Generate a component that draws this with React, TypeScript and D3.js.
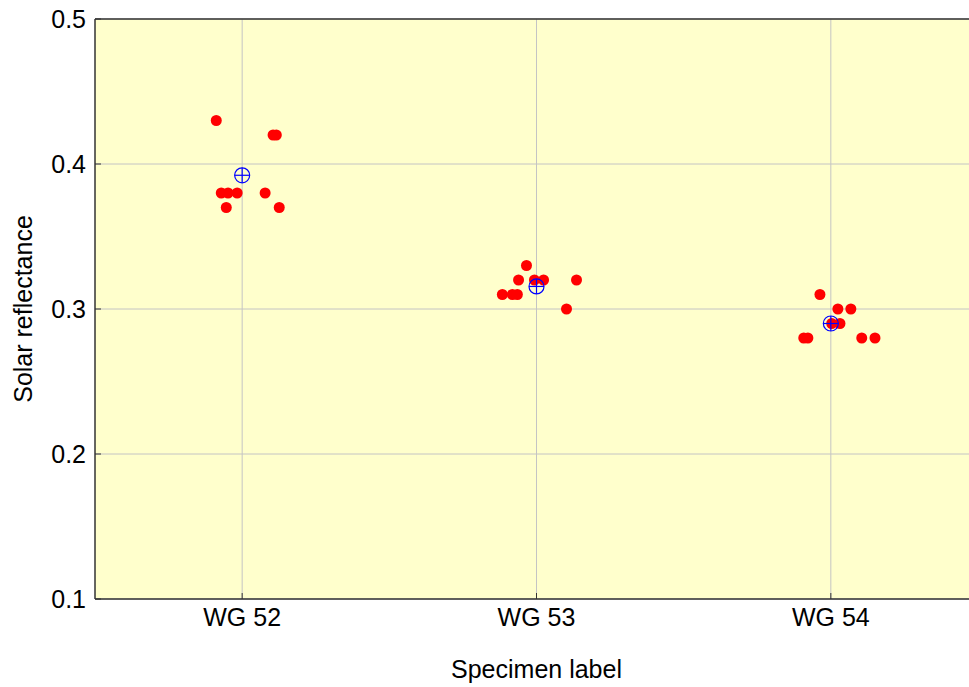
import { useRef, useEffect } from "react";
import * as d3 from "d3";

// specimen categories and measured reflectances (jittered horizontally like the original)
const specimens = ["WG 52", "WG 53", "WG 54"];
const wg52 = [0.43, 0.42, 0.42, 0.38, 0.38, 0.38, 0.38, 0.37, 0.37];
const wg52Jitter = [-0.088, 0.105, 0.116, -0.071, -0.048, -0.017, 0.078, -0.054, 0.126];
const wg53 = [0.33, 0.32, 0.32, 0.32, 0.32, 0.31, 0.31, 0.31, 0.3];
const wg53Jitter = [-0.034, -0.061, -0.007, 0.024, 0.136, -0.116, -0.082, -0.065, 0.102];
const wg54 = [0.31, 0.3, 0.3, 0.29, 0.29, 0.28, 0.28, 0.28, 0.28];
const wg54Jitter = [-0.037, 0.024, 0.068, 0.031, 0.003, -0.092, -0.078, 0.105, 0.15];
const yTicks = [0.1, 0.2, 0.3, 0.4, 0.5];

const groups = [
  { values: wg52, jitter: wg52Jitter },
  { values: wg53, jitter: wg53Jitter },
  { values: wg54, jitter: wg54Jitter },
];

export default function App() {
  const svgRef = useRef<SVGSVGElement>(null);

  useEffect(() => {
    if (!svgRef.current) return;
    const width = 969;
    const height = 687;
    const margin = { top: 19, right: -9, bottom: 88, left: 95 };
    const font = "'Liberation Sans', Arial, sans-serif";
    const fontSize = "25px";

    const svg = d3.select(svgRef.current);
    svg.selectAll("*").remove();
    svg.attr("width", width).attr("height", height);

    const innerWidth = width - margin.left - margin.right;
    const innerHeight = height - margin.top - margin.bottom;

    const x = d3.scaleLinear().domain([0.5, 3.5]).range([0, innerWidth]);
    const y = d3.scaleLinear().domain([0.1, 0.5]).range([innerHeight, 0]);

    const g = svg.append("g").attr("transform", `translate(${margin.left},${margin.top})`);

    // background
    g.append("rect")
      .attr("width", innerWidth)
      .attr("height", innerHeight)
      .attr("fill", "#ffffcc");

    // grid
    g.selectAll(".hgrid")
      .data(yTicks)
      .join("line")
      .attr("x1", 0)
      .attr("x2", innerWidth)
      .attr("y1", (d) => y(d))
      .attr("y2", (d) => y(d))
      .attr("stroke", "#c4c4c4")
      .attr("stroke-width", 1);
    g.selectAll(".vgrid")
      .data(specimens)
      .join("line")
      .attr("x1", (_, i) => x(i + 1))
      .attr("x2", (_, i) => x(i + 1))
      .attr("y1", 0)
      .attr("y2", innerHeight)
      .attr("stroke", "#c4c4c4")
      .attr("stroke-width", 1);

    // axes frame
    g.append("line").attr("x1", 0).attr("x2", innerWidth).attr("y1", 0).attr("y2", 0).attr("stroke", "#333").attr("stroke-width", 1.5);
    g.append("line").attr("x1", 0).attr("x2", innerWidth).attr("y1", innerHeight).attr("y2", innerHeight).attr("stroke", "#333").attr("stroke-width", 1.5);
    g.append("line").attr("x1", 0).attr("x2", 0).attr("y1", 0).attr("y2", innerHeight).attr("stroke", "#333").attr("stroke-width", 1.5);

    // inward ticks
    g.selectAll(".ytick")
      .data(yTicks)
      .join("line")
      .attr("x1", 0)
      .attr("x2", 6)
      .attr("y1", (d) => y(d))
      .attr("y2", (d) => y(d))
      .attr("stroke", "#333");
    g.selectAll(".xtick")
      .data(specimens)
      .join("line")
      .attr("x1", (_, i) => x(i + 1))
      .attr("x2", (_, i) => x(i + 1))
      .attr("y1", innerHeight)
      .attr("y2", innerHeight - 6)
      .attr("stroke", "#333");

    // tick labels
    g.selectAll(".ylabel")
      .data(yTicks)
      .join("text")
      .attr("x", -9)
      .attr("y", (d) => y(d))
      .attr("dy", "0.35em")
      .attr("text-anchor", "end")
      .style("font-family", font)
      .style("font-size", fontSize)
      .attr("fill", "#000")
      .text((d) => d3.format(".1f")(d));
    g.selectAll(".xlabel")
      .data(specimens)
      .join("text")
      .attr("x", (_, i) => x(i + 1))
      .attr("y", innerHeight + 27)
      .attr("text-anchor", "middle")
      .style("font-family", font)
      .style("font-size", fontSize)
      .attr("fill", "#000")
      .text((d) => d);

    // data points
    groups.forEach((grp, gi) => {
      g.selectAll(`.dot${gi}`)
        .data(grp.values)
        .join("circle")
        .attr("cx", (_, j) => x(gi + 1 + grp.jitter[j]))
        .attr("cy", (d) => y(d))
        .attr("r", 5.5)
        .attr("fill", "#ff0000");
    });

    // group means
    groups.forEach((grp, gi) => {
      const m = d3.mean(grp.values)!;
      const cx = x(gi + 1);
      const cy = y(m);
      const r = 7.5;
      g.append("circle")
        .attr("cx", cx)
        .attr("cy", cy)
        .attr("r", r)
        .attr("fill", "none")
        .attr("stroke", "#0000ff")
        .attr("stroke-width", 1.2);
      g.append("line").attr("x1", cx - r).attr("x2", cx + r).attr("y1", cy).attr("y2", cy).attr("stroke", "#0000ff").attr("stroke-width", 1.2);
      g.append("line").attr("x1", cx).attr("x2", cx).attr("y1", cy - r).attr("y2", cy + r).attr("stroke", "#0000ff").attr("stroke-width", 1.2);
    });

    // axis titles
    svg.append("text")
      .attr("x", margin.left + x(2))
      .attr("y", 678)
      .attr("text-anchor", "middle")
      .style("font-family", font)
      .style("font-size", fontSize)
      .text("Specimen label");
    svg.append("text")
      .attr("transform", `translate(32,${margin.top + innerHeight / 2}) rotate(-90)`)
      .attr("text-anchor", "middle")
      .style("font-family", font)
      .style("font-size", fontSize)
      .text("Solar reflectance");
  }, []);

  return (
    <svg
      ref={svgRef}
      style={{ position: "absolute", left: 0, top: 0, display: "block", background: "#fff" }}
    />
  );
}
